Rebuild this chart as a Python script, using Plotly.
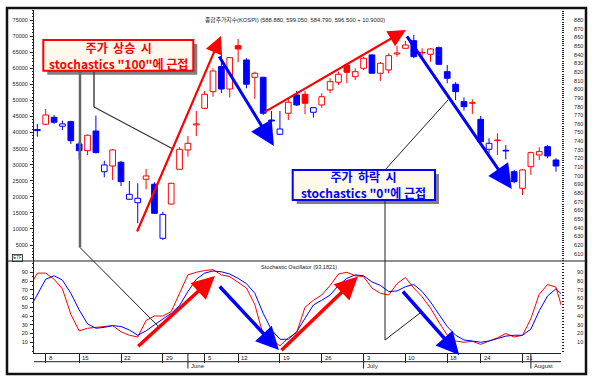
import plotly.graph_objects as go

# ---------------- data ----------------
dates = ["2000-05-03", "2000-05-04", "2000-05-08", "2000-05-09", "2000-05-10", "2000-05-12",
         "2000-05-15", "2000-05-16", "2000-05-17", "2000-05-18", "2000-05-19",
         "2000-05-22", "2000-05-23", "2000-05-24", "2000-05-25", "2000-05-26",
         "2000-05-29", "2000-05-30", "2000-05-31", "2000-06-01", "2000-06-02",
         "2000-06-05", "2000-06-07", "2000-06-08", "2000-06-09",
         "2000-06-12", "2000-06-13", "2000-06-14", "2000-06-15", "2000-06-16",
         "2000-06-19", "2000-06-20", "2000-06-21", "2000-06-22", "2000-06-23",
         "2000-06-26", "2000-06-27", "2000-06-28", "2000-06-29", "2000-06-30",
         "2000-07-03", "2000-07-04", "2000-07-05", "2000-07-06", "2000-07-07",
         "2000-07-10", "2000-07-11", "2000-07-12", "2000-07-13", "2000-07-14",
         "2000-07-18", "2000-07-19", "2000-07-20", "2000-07-21",
         "2000-07-24", "2000-07-25", "2000-07-26", "2000-07-27", "2000-07-28",
         "2000-07-31", "2000-08-01", "2000-08-02", "2000-08-03", "2000-08-04",
         "2000-08-07"]
candle_dates = dates[1:64]

opens = [753.5, 759.6, 767.6, 757.3, 762.6, 736.8, 729.1, 751.8, 704.8, 711.4,
         715.7, 673.0, 669.0, 696.1, 690.3, 627.9, 667.5, 707.6, 729.9, 758.8,
         778.0, 797.2, 826.1, 800.3, 850.3, 833.8, 813.8, 813.8, 764.5, 748.0,
         772.3, 793.4, 794.2, 773.4, 781.9, 799.2, 808.1, 828.0, 814.5, 824.2,
         839.6, 818.5, 822.3, 840.7, 847.3, 856.1, 841.9, 840.4, 848.0, 820.3,
         805.8, 785.7, 783.8, 765.3, 730.7, 740.6, 729.5, 704.8, 685.7, 710.6,
         724.1, 733.7, 718.3]
highs = [760.0, 777.2, 770.3, 763.7, 763.7, 739.5, 747.6, 769.5, 717.5, 730.7,
         717.2, 694.1, 691.4, 708.0, 692.6, 658.6, 692.0, 733.0, 746.0, 774.9,
         798.0, 824.2, 841.5, 837.0, 858.1, 835.8, 820.3, 814.5, 774.9, 774.9,
         790.3, 798.0, 798.0, 779.5, 795.4, 812.7, 820.3, 830.0, 824.2, 837.6,
         840.4, 831.5, 841.5, 850.3, 855.8, 862.7, 847.3, 847.3, 849.2, 828.0,
         808.1, 790.7, 788.4, 769.1, 743.4, 749.2, 735.7, 706.8, 707.6, 728.0,
         733.0, 735.7, 720.3]
lows = [745.3, 758.8, 760.0, 753.0, 736.8, 719.0, 724.1, 726.1, 698.4, 695.2,
        688.3, 672.2, 645.3, 684.5, 656.0, 626.0, 667.0, 707.0, 722.2, 746.0,
        777.2, 791.4, 795.4, 790.3, 831.2, 801.1, 788.8, 770.3, 745.2, 747.2,
        764.5, 780.7, 771.1, 767.2, 778.7, 795.4, 805.0, 806.9, 810.7, 822.3,
        818.0, 809.6, 818.5, 837.6, 846.5, 835.8, 837.3, 831.8, 828.0, 806.9,
        787.6, 775.3, 771.5, 738.3, 726.1, 724.1, 719.0, 691.4, 677.9, 701.0,
        718.3, 720.3, 704.8]
closes = [752.2, 770.3, 761.9, 760.0, 740.6, 729.1, 746.9, 726.8, 712.6, 729.9,
          693.3, 678.7, 674.1, 699.9, 656.8, 655.5, 691.4, 730.7, 737.6, 760.0,
          794.2, 821.1, 800.3, 836.5, 846.5, 805.8, 818.5, 772.3, 763.4, 754.1,
          785.0, 781.9, 783.8, 778.7, 791.4, 808.8, 817.3, 819.6, 820.3, 835.8,
          818.5, 830.0, 838.8, 841.9, 851.1, 837.6, 842.7, 846.5, 828.8, 812.7,
          797.2, 779.9, 784.5, 739.5, 737.6, 741.4, 728.7, 693.3, 706.8, 726.8,
          728.0, 723.0, 711.4]

stoch_k = [72, 89, 89, 82, 71, 42, 23, 26, 27, 28, 29, 22, 18, 16, 35, 40, 40, 45, 67, 87,
           90, 92, 93, 87, 85, 79, 72, 53, 18, 12.6, 6, 15, 21, 50, 58, 64, 75, 88, 90, 86,
           85, 72, 66, 64, 77, 84, 72, 62, 49, 33, 18, 11.4, 10, 11, 7.6, 11.5, 15, 20, 16, 18,
           37, 65, 76, 73, 40]
stoch_d = [47, 64, 82, 86, 81, 66, 47, 31, 26, 27, 29, 28, 24, 18, 23, 30, 36, 43, 52, 68,
           82, 89, 91.5, 90.5, 88, 83, 77, 66, 43, 24, 13.4, 13.4, 22, 38, 52.6, 58, 64, 75, 83, 87,
           86, 79, 75, 68, 68.6, 73.5, 76, 68, 56, 42, 28, 18, 12.6, 11.4, 10, 11.4, 14.5, 17, 18, 18,
           25, 46, 63, 71, 62]

week_ticks = ["2000-05-08", "2000-05-15", "2000-05-22", "2000-05-29", "2000-06-05", "2000-06-12",
              "2000-06-19", "2000-06-26", "2000-07-03", "2000-07-10", "2000-07-18", "2000-07-24",
              "2000-07-31"]
week_labels = ["8", "15", "22", "29", "5", "12", "19", "26", "3", "10", "18", "24", "31"]
month_ticks = ["2000-06-01", "2000-07-03", "2000-08-01"]
month_labels = ["June", "July", "August"]
left_ticks = list(range(5000, 75001, 5000))
right_ticks = list(range(610, 881, 10))
stoch_ticks = list(range(10, 91, 10))

title_text = "종합주가지수(KOSPI) (588.880, 599.050, 584.790, 596.500 + 10.9000)"
stoch_text = "Stochastic Oscillator (93.1821)"
up_text = "<b>주가 &nbsp;상승 &nbsp;시</b><br><b>stochastics \"100\"에 근접</b>"
down_text = "<b>주가 &nbsp;하락 &nbsp;시</b><br><b>stochastics \"0\"에 근접</b>"

# ---------------- helpers ----------------
W, H = 602, 384
RED, BLUE = "#FF0000", "#0000FF"
TICKFONT = dict(family="Liberation Sans, Arial, sans-serif", size=5.5, color="#222222")
KFONT = "Noto Sans CJK KR, Liberation Sans, sans-serif"


def px(x):
    return x / W


def py(y):
    return 1 - y / H


X_DOM = [px(34), px(561)]
X_RANGE = [0.6, 63.6]
LEFT_RANGE = [25, 78111]

# ---------------- candles ----------------
ref = [opens[0]] + closes[:-1]
colors = [RED if c >= r else BLUE for c, r in zip(closes, ref)]
fills = ["white" if c > o else col for o, c, col in zip(opens, closes, colors)]
bases = [min(o, c) for o, c in zip(opens, closes)]
heights = [max(abs(c - o), 0.6) for o, c in zip(opens, closes)]

fig = go.Figure()

for col in (RED, BLUE):
    wx, wy = [], []
    for d, o, h, l, c, cc in zip(candle_dates, opens, highs, lows, closes, colors):
        if cc != col:
            continue
        top, bot = max(o, c), min(o, c)
        wx += [d, d, None, d, d, None]
        wy += [top, h, None, l, bot, None]
    fig.add_trace(go.Scatter(x=wx, y=wy, mode="lines", line=dict(color=col, width=1),
                             xaxis="x", yaxis="y", hoverinfo="skip", connectgaps=False))

fig.add_trace(go.Bar(x=candle_dates, y=heights, base=bases, width=0.68,
                     marker=dict(color=fills, line=dict(color=colors, width=1)),
                     xaxis="x", yaxis="y", hoverinfo="skip"))

# invisible anchor so the left (secondary) price scale is drawn
fig.add_trace(go.Scatter(x=candle_dates[:1], y=left_ticks[:1], mode="markers",
                         marker=dict(opacity=0), xaxis="x", yaxis="y2", hoverinfo="skip"))

# ---------------- stochastics ----------------
fig.add_trace(go.Scatter(x=dates, y=stoch_k, mode="lines", line=dict(color=RED, width=1),
                         xaxis="x2", yaxis="y3", hoverinfo="skip"))
fig.add_trace(go.Scatter(x=dates, y=stoch_d, mode="lines", line=dict(color=BLUE, width=1),
                         xaxis="x2", yaxis="y3", hoverinfo="skip"))
# invisible anchor so the right stochastic scale is drawn
fig.add_trace(go.Scatter(x=dates[1:2], y=stoch_ticks[:1], mode="markers",
                         marker=dict(opacity=0), xaxis="x2", yaxis="y4", hoverinfo="skip"))

# ---------------- axes ----------------
fig.update_layout(
    width=W, height=H, margin=dict(l=0, r=0, t=0, b=0),
    paper_bgcolor="white", plot_bgcolor="white", showlegend=False, barmode="overlay",
    xaxis=dict(domain=X_DOM, anchor="y", type="category", categoryorder="array",
               categoryarray=dates, range=X_RANGE, showticklabels=False, ticks="",
               showgrid=False, zeroline=False, showline=False),
    yaxis=dict(domain=[py(261), py(10)], anchor="x", side="right", range=[601.7, 891.5],
               tickvals=right_ticks, ticks="outside", ticklen=2, tickcolor="#222",
               tickfont=TICKFONT, ticklabelstandoff=9, showgrid=False, zeroline=False,
               showline=False,
               minor=dict(ticks="outside", ticklen=1.5, dtick=2.5, tickcolor="#222")),
    yaxis2=dict(overlaying="y", anchor="x", side="left", range=LEFT_RANGE,
                tickvals=left_ticks, tickformat="d", ticks="outside", ticklen=3,
                tickcolor="#222", tickfont=TICKFONT, ticklabelstandoff=1, showgrid=False,
                zeroline=False, showline=True, linecolor="#222", linewidth=1,
                minor=dict(ticks="outside", ticklen=1.5, dtick=1000, tickcolor="#222")),
    xaxis2=dict(domain=X_DOM, anchor="y3", type="category", categoryorder="array",
                categoryarray=dates, range=X_RANGE, matches="x",
                tickvals=week_ticks, ticks="outside", ticklen=9, tickcolor="#222",
                showticklabels=False, showgrid=False, zeroline=False,
                showline=True, linecolor="#222", linewidth=1),
    yaxis3=dict(domain=[py(353), py(261)], anchor="x2", side="left", range=[-2.29, 102.86],
                tickvals=stoch_ticks, ticks="outside", ticklen=3, tickcolor="#222",
                tickfont=TICKFONT, ticklabelstandoff=1, showgrid=False, zeroline=False,
                showline=True, linecolor="#222", linewidth=1,
                minor=dict(ticks="outside", ticklen=1.5, dtick=5, tickcolor="#222")),
    yaxis4=dict(overlaying="y3", anchor="x2", side="right", range=[-2.29, 102.86],
                tickvals=stoch_ticks, ticks="outside", ticklen=2, tickcolor="#222",
                tickfont=TICKFONT, ticklabelstandoff=12, showgrid=False, zeroline=False,
                showline=False,
                minor=dict(ticks="outside", ticklen=1.5, dtick=3.33, tickcolor="#222")),
)

shapes = []
ann = []

# frame and separators
shapes.append(dict(type="rect", xref="paper", yref="paper", x0=px(7), x1=px(586), y0=py(374),
                   y1=py(8), line=dict(color="#111", width=2.5)))
shapes.append(dict(type="line", xref="paper", yref="paper", x0=px(7), x1=px(586), y0=py(261),
                   y1=py(261), line=dict(color="#222", width=1)))
shapes.append(dict(type="line", xref="paper", yref="paper", x0=X_DOM[0], x1=X_DOM[1],
                   y0=py(361.7), y1=py(361.7), line=dict(color="#222", width=1)))

# month divider ticks
for d in month_ticks:
    k = dates.index(d)
    shapes.append(dict(type="line", xref="x2", yref="paper", x0=k, x1=k, y0=py(353),
                       y1=py(368.5), line=dict(color="#222", width=1)))

# callout boxes (shadow + box)
for (x0, y0, x1, y1, col) in [(43.3, 40, 193.3, 70.7, RED), (292.7, 170, 435, 200, BLUE)]:
    shapes.append(dict(type="rect", xref="paper", yref="paper", x0=px(x0 + 4), x1=px(x1 + 4),
                       y0=py(y1 + 4), y1=py(y0 + 4), fillcolor="#808080",
                       line=dict(width=0)))
    shapes.append(dict(type="rect", xref="paper", yref="paper", x0=px(x0), x1=px(x1),
                       y0=py(y1), y1=py(y0), fillcolor="#FFF9EC",
                       line=dict(color=col, width=2)))


# callout lines
def seg(a, b, color="#222", width=1):
    shapes.append(dict(type="line", xref="paper", yref="paper", x0=px(a[0]), y0=py(a[1]),
                       x1=px(b[0]), y1=py(b[1]), line=dict(color=color, width=width)))


seg((80, 72), (80, 247.5), "#666", 2.5)
seg((80, 247.5), (158, 326), "#222", 1)
seg((94, 72), (94, 107), "#444", 1.5)
seg((94, 107), (173, 149), "#333", 1.2)
seg((385, 170), (448, 100), "#222", 1)
seg((385, 200), (385, 340), "#222", 1)
seg((385, 340), (420, 313), "#222", 1)

# arrows (tail -> head) in data coordinates
price_arrows = [((12.85, 634.0), (22.95, 861.5), RED, 2.2),
                ((22.63, 839.6), (29.28, 734.5), BLUE, 3),
                ((27.97, 772.6), (45.06, 868.5), RED, 2.2),
                ((45.06, 862.7), (57.72, 684.9), BLUE, 3)]
for (t, h, col, w) in price_arrows:
    ann.append(dict(x=h[0], y=h[1], ax=t[0], ay=t[1], xref="x", yref="y", axref="x",
                    ayref="y", text="", showarrow=True, arrowhead=2, arrowsize=1.6,
                    arrowwidth=w, arrowcolor=col, standoff=0))
stoch_arrows = [((12.88, 3.8), (22.23, 85.7), RED),
                ((22.63, 75.4), (29.88, 1.1), BLUE),
                ((30.0, -0.8), (39.32, 85.1), RED),
                ((44.54, 69.7), (51.43, -4.6), BLUE)]
for (t, h, col) in stoch_arrows:
    ann.append(dict(x=h[0], y=h[1], ax=t[0], ay=t[1], xref="x2", yref="y3", axref="x2",
                    ayref="y3", text="", showarrow=True, arrowhead=2, arrowsize=1.3,
                    arrowwidth=3.5, arrowcolor=col, standoff=0))

# callout text
ann.append(dict(x=px(118.3), y=py(55.3), xref="paper", yref="paper", text=up_text,
                showarrow=False, font=dict(family=KFONT, size=12, color=RED),
                xanchor="center", yanchor="middle"))
ann.append(dict(x=px(363.8), y=py(184.5), xref="paper", yref="paper", text=down_text,
                showarrow=False, font=dict(family=KFONT, size=12, color=BLUE),
                xanchor="center", yanchor="middle"))

# titles
ann.append(dict(x=px(203), y=py(19.5), xref="paper", yref="paper", text=title_text,
                showarrow=False, font=dict(family="Liberation Sans, " + KFONT, size=5.8,
                                           color="#222"),
                xanchor="left", yanchor="middle"))
ann.append(dict(x=px(259), y=py(266.5), xref="paper", yref="paper", text=stoch_text,
                showarrow=False, font=dict(family="Liberation Sans", size=5.6, color="#222"),
                xanchor="left", yanchor="middle"))
ann.append(dict(x=px(17), y=py(258), xref="paper", yref="paper", text="ETF",
                showarrow=False, font=dict(family="Liberation Sans", size=4.5, color="#222"),
                bordercolor="#222", borderwidth=0.8, borderpad=0.5,
                xanchor="center", yanchor="middle"))

# date labels
for d, lab in zip(week_ticks, week_labels):
    ann.append(dict(x=dates.index(d), y=py(357.5), xref="x2", yref="paper", text=lab,
                    showarrow=False, font=dict(family="Liberation Sans", size=6, color="#222"),
                    xanchor="left", yanchor="middle", xshift=1))
for d, lab in zip(month_ticks, month_labels):
    ann.append(dict(x=dates.index(d), y=py(365.5), xref="x2", yref="paper", text=lab,
                    showarrow=False, font=dict(family="Liberation Sans", size=6, color="#222"),
                    xanchor="left", yanchor="middle", xshift=1))

fig.update_layout(shapes=shapes, annotations=ann)
fig.write_html("out.html", config={"displayModeBar": False, "staticPlot": True})

# remove the browser's default page margin so the figure sits at (0, 0)
with open("out.html", "r", encoding="utf-8") as f:
    page = f.read()
page = page.replace("<head>", "<head><style>html,body{margin:0;padding:0;overflow:hidden;}</style>", 1)
with open("out.html", "w", encoding="utf-8") as f:
    f.write(page)
